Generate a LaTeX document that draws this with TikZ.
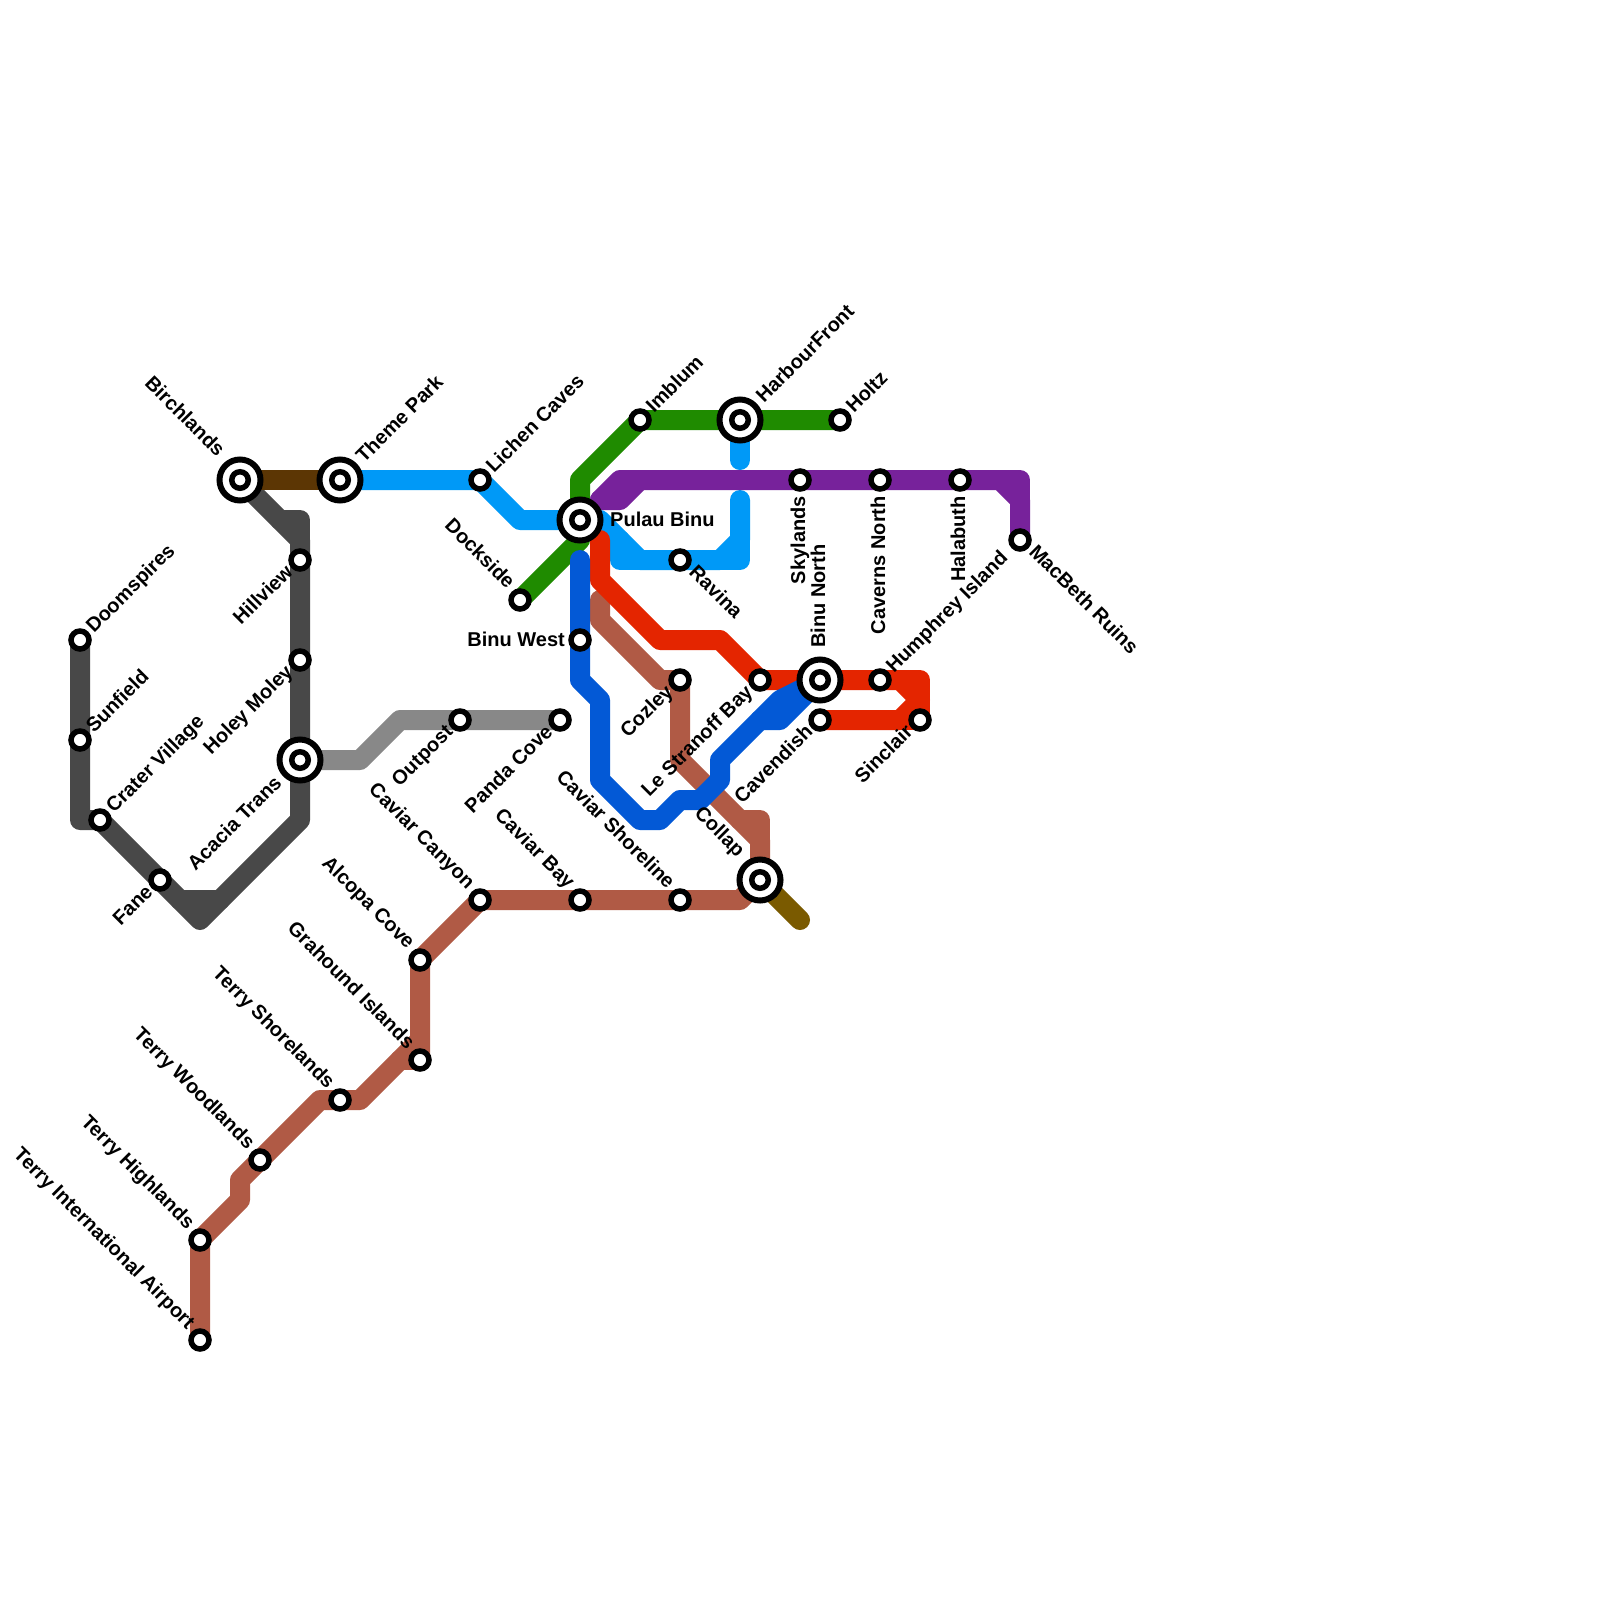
\documentclass[tikz,border=0pt]{standalone}
\usepackage{fontspec}
\setmainfont{Liberation Sans}[BoldFont={Liberation Sans Bold}]
\definecolor{cdark}{HTML}{484848}
\definecolor{cgray}{HTML}{888888}
\definecolor{cbrown}{HTML}{5C3604}
\definecolor{colive}{HTML}{7A5A00}
\definecolor{cltblue}{HTML}{0099F7}
\definecolor{cgreen}{HTML}{1F8B00}
\definecolor{cpurple}{HTML}{77229B}
\definecolor{crust}{HTML}{B05A45}
\definecolor{cred}{HTML}{E42500}
\definecolor{cblue}{HTML}{0359D6}
\tikzset{
  x=1pt,y=-1pt,
  metro/.style={line width=20pt,line join=round,line cap=round},
  halt/.style={circle,draw=black,fill=white,line width=5.5pt,minimum size=18pt,inner sep=0pt},
  hub/.style={circle,draw=black,fill=white,line width=6pt,minimum size=41pt,inner sep=0pt},
  hubcore/.style={circle,draw=black,fill=white,line width=5.5pt,minimum size=16.5pt,inner sep=0pt},
  lb/.style={font=\fontsize{20}{22}\selectfont\bfseries,inner sep=0pt,text=black},
  lbNE/.style={lb,xshift=14pt,yshift=6pt,rotate=45,anchor=base west},
  lbNW/.style={lb,xshift=-13pt,yshift=10pt,rotate=-45,anchor=base east},
  lbSW/.style={lb,xshift=-6pt,yshift=-13pt,rotate=45,anchor=base east},
  lbSE/.style={lb,xshift=8pt,yshift=-13pt,rotate=-45,anchor=base west},
  lbS/.style={lb,xshift=5pt,yshift=-16pt,rotate=90,anchor=base east},
  lbN/.style={lb,xshift=5pt,yshift=32pt,rotate=90,anchor=base west},
  hubNE/.style={lb,xshift=24pt,yshift=16pt,rotate=45,anchor=base west},
  hubNW/.style={lb,xshift=-23pt,yshift=22pt,rotate=-45,anchor=base east},
  hubSW/.style={lb,xshift=-17pt,yshift=-24pt,rotate=45,anchor=base east},
}
\begin{document}
\begin{tikzpicture}
\useasboundingbox (0,0) rectangle (1600,1600);
\fill[white] (0,0) rectangle (1600,1600);
% station positions
\coordinate (doomspires) at (80,640);
\coordinate (sunfield) at (80,740);
\coordinate (crater) at (100,820);
\coordinate (fane) at (160,880);
\coordinate (birchlands) at (240,480);
\coordinate (themepark) at (340,480);
\coordinate (hillview) at (300,560);
\coordinate (holeymoley) at (300,660);
\coordinate (acacia) at (300,760);
\coordinate (outpost) at (460,720);
\coordinate (pandacove) at (560,720);
\coordinate (lichen) at (480,480);
\coordinate (dockside) at (520,600);
\coordinate (pulau) at (580,520);
\coordinate (binuwest) at (580,640);
\coordinate (imblum) at (640,420);
\coordinate (harbour) at (740,420);
\coordinate (holtz) at (840,420);
\coordinate (skylands) at (800,480);
\coordinate (caverns) at (880,480);
\coordinate (halabuth) at (960,480);
\coordinate (macbeth) at (1020,540);
\coordinate (ravina) at (680,560);
\coordinate (cozley) at (680,680);
\coordinate (stranoff) at (760,680);
\coordinate (binunorth) at (820,680);
\coordinate (cavendish) at (820,720);
\coordinate (humphrey) at (880,680);
\coordinate (sinclair) at (920,720);
\coordinate (collap) at (760,880);
\coordinate (shoreline) at (680,900);
\coordinate (caviarbay) at (580,900);
\coordinate (canyon) at (480,900);
\coordinate (alcopa) at (420,960);
\coordinate (grahound) at (420,1060);
\coordinate (shorelands) at (340,1100);
\coordinate (woodlands) at (260,1160);
\coordinate (highlands) at (200,1240);
\coordinate (airport) at (200,1340);
\coordinate (oliveend) at (800,920);
% lines
\draw[metro,cgray] (acacia) -- (360,760) -- (400,720) -- (pandacove);
\draw[metro,cdark] (birchlands) -- (300,540) -- (hillview) -- (acacia) -- (300,820) -- (200,920) -- (crater) -- (80,820) -- (doomspires);
\draw[metro,cdark] (180,900) -- (220,900);
\draw[metro,cdark] (280,520) -- (300,520) -- (300,540);
\draw[metro,cbrown] (birchlands) -- (themepark);
\draw[metro,colive] (collap) -- (oliveend);
\draw[metro,cltblue] (themepark) -- (lichen) -- (520,520) -- (pulau) -- (600,520) -- (640,560) -- (720,560) -- (740,540) -- (740,500);
\draw[metro,cltblue] (620,540) -- (620,560) -- (740,560) -- (740,540);
\draw[metro,cltblue] (harbour) -- (740,460);
\draw[metro,cgreen] (dockside) -- (580,540) -- (580,480) -- (imblum) -- (holtz);
\draw[metro,cpurple] (600,500) -- (620,480) -- (1000,480) -- (1020,500) -- (macbeth);
\draw[metro,cpurple] (1000,480) -- (1020,480) -- (1020,500);
\draw[metro,cpurple] (600,500) -- (620,500) -- (640,480);
\draw[metro,crust] (airport) -- (highlands) -- (240,1200) -- (240,1180) -- (320,1100) -- (360,1100) -- (420,1040) -- (grahound) -- (alcopa) -- (canyon) -- (740,900) -- (collap) -- (760,840) -- (680,760) -- (cozley) -- (660,680) -- (600,620) -- (600,600);
\draw[metro,crust] (400,1060) -- (grahound);
\draw[metro,crust] (740,820) -- (760,820) -- (760,840);
\draw[metro,cred] (600,540) -- (600,580) -- (660,640) -- (720,640) -- (stranoff) -- (900,680) -- (920,700) -- (900,720) -- (cavendish);
\draw[metro,cred] (900,680) -- (920,680) -- (sinclair) -- (900,720);
\draw[metro,cblue] (580,560) -- (binuwest) -- (580,680) -- (600,700) -- (600,780) -- (640,820) -- (660,820) -- (680,800) -- (700,800) -- (720,780) -- (720,760) -- (780,700) -- (binunorth);
\draw[metro,cblue] (760,720) -- (780,720) -- (binunorth);
% stations
\foreach \s in {doomspires,sunfield,crater,fane,hillview,holeymoley,outpost,pandacove,lichen,dockside,binuwest,imblum,holtz,skylands,caverns,halabuth,macbeth,ravina,cozley,stranoff,cavendish,humphrey,sinclair,shoreline,caviarbay,canyon,alcopa,grahound,shorelands,woodlands,highlands,airport}
  \node[halt] (st\s) at (\s) {};
\foreach \s in {birchlands,themepark,acacia,pulau,harbour,binunorth,collap}{
  \node[hub] (st\s) at (\s) {};
  \node[hubcore] (core\s) at (\s) {};
}
% labels
\node[lbNE] (l1) at (doomspires) {Doomspires};
\node[lbNE] (l2) at (sunfield) {Sunfield};
\node[lbNE] (l3) at (crater) {Crater Village};
\node[lbSW] (l4) at (fane) {Fane};
\node[hubNW] (l5) at (birchlands) {Birchlands};
\node[hubNE] (l6) at (themepark) {Theme Park};
\node[lbSW] (l7) at (hillview) {Hillview};
\node[lbSW] (l8) at (holeymoley) {Holey Moley};
\node[hubSW] (l9) at (acacia) {Acacia Trans};
\node[lbSW] (l10) at (outpost) {Outpost};
\node[lbSW] (l11) at (pandacove) {Panda Cove};
\node[lbNE] (l12) at (lichen) {Lichen Caves};
\node[lbNW] (l13) at (dockside) {Dockside};
\node[lb,anchor=base west] (l14) at ([xshift=30pt,yshift=-6pt]pulau) {Pulau Binu};
\node[lb,anchor=base east] (l15) at ([xshift=-15pt,yshift=-6pt]binuwest) {Binu West};
\node[lbNE] (l16) at (imblum) {Imblum};
\node[hubNE] (l17) at (harbour) {HarbourFront};
\node[lbNE] (l18) at (holtz) {Holtz};
\node[lbS] (l19) at (skylands) {Skylands};
\node[lbS] (l20) at (caverns) {Caverns North};
\node[lbS] (l21) at (halabuth) {Halabuth};
\node[lbSE] (l23) at (macbeth) {MacBeth Ruins};
\node[lbSE] (l24) at (ravina) {Ravina};
\node[lbSW] (l25) at (cozley) {Cozley};
\node[lbSW] (l26) at (stranoff) {Le Stranoff Bay};
\node[lbN] (l27) at (binunorth) {Binu North};
\node[lbSW] (l28) at (cavendish) {Cavendish};
\node[lbNE] (l29) at (humphrey) {Humphrey Island};
\node[lbSW] (l30) at (sinclair) {Sinclair};
\node[hubNW] (l31) at (collap) {Collap};
\node[lbNW] (l32) at (shoreline) {Caviar Shoreline};
\node[lbNW] (l33) at (caviarbay) {Caviar Bay};
\node[lbNW] (l34) at (canyon) {Caviar Canyon};
\node[lbNW] (l35) at (alcopa) {Alcopa Cove};
\node[lbNW] (l36) at (grahound) {Grahound Islands};
\node[lbNW] (l37) at (shorelands) {Terry Shorelands};
\node[lbNW] (l38) at (woodlands) {Terry Woodlands};
\node[lbNW] (l39) at (highlands) {Terry Highlands};
\node[lbNW] (l40) at (airport) {Terry International Airport};
\end{tikzpicture}
\end{document}
